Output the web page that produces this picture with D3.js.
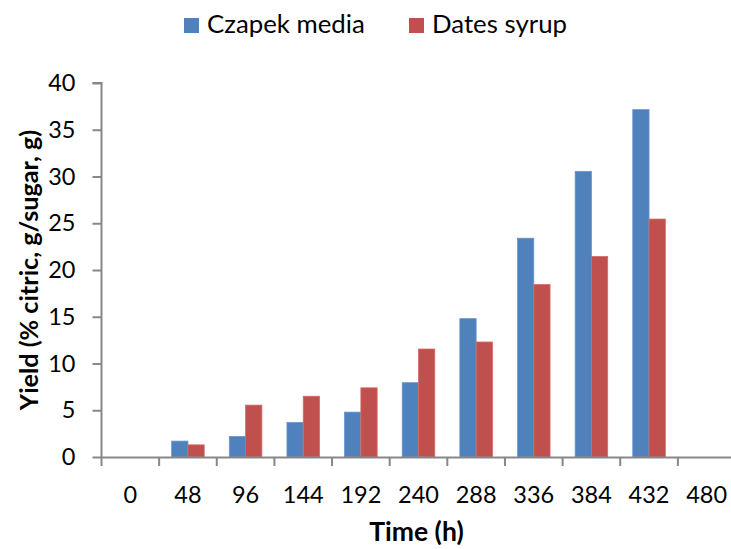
<!DOCTYPE html>
<html><head><meta charset="utf-8">
<script src="https://cdn.jsdelivr.net/npm/d3@7"></script>
<style>body{margin:0;background:#fff}svg{display:block}text{font-family:Lato,"Open Sans",sans-serif}</style>
</head><body>
<svg id="c" width="731" height="549"></svg>
<script>
const categories = ["0","48","96","144","192","240","288","336","384","432","480"];
const czapek = [null,1.7,2.2,3.7,4.8,7.95,14.8,23.4,30.55,37.15,null];
const dates  = [null,1.3,5.55,6.5,7.4,11.55,12.3,18.45,21.45,25.45,null];
const seriesNames = ["Czapek media","Dates syrup"];
const colors = ["#4F81BD","#C0504D"];
const yTicks = [0,5,10,15,20,25,30,35,40];

const svg = d3.select("#c");
const mLeft = 101.5, mRight = 735.5, mTop = 83, mBottom = 457;
const x = d3.scaleBand().domain(categories).range([mLeft,mRight]).paddingInner(0).paddingOuter(0);
const xs = d3.scaleBand().domain(seriesNames).range([0,x.bandwidth()]).paddingInner(0).paddingOuter(0.77);
const y = d3.scaleLinear().domain([0,40]).range([mBottom,mTop]);
const axisColor = "#878787";

// bars
const series = [czapek,dates];
series.forEach((vals,si)=>{
  svg.append("g").selectAll("rect").data(categories.map((c,i)=>({c,v:vals[i]})).filter(d=>d.v!=null))
    .join("rect")
    .attr("x",d=>x(d.c)+xs(seriesNames[si]))
    .attr("width",xs.bandwidth())
    .attr("y",d=>y(d.v))
    .attr("height",d=>mBottom-y(d.v))
    .attr("fill",colors[si])
    .attr("stroke",si===0?"#6a94cc":"#d36d6a").attr("stroke-width",0.8);
});

// y axis
const ya = svg.append("g").attr("transform",`translate(${mLeft},0)`)
  .call(d3.axisLeft(y).tickValues(yTicks).tickSize(9).tickPadding(17));
ya.select(".domain").attr("stroke",axisColor).attr("stroke-width",2).attr("d",`M-9,${mTop}H0V${mBottom}`);
ya.selectAll(".tick line").attr("stroke",axisColor).attr("stroke-width",2);
ya.selectAll(".tick text").attr("font-size",23.5).attr("fill","#000").attr("font-family","Lato");

// x axis
const xa = svg.append("g").attr("transform",`translate(0,${mBottom})`)
  .call(d3.axisBottom(x).tickSize(0).tickPadding(29));
xa.select(".domain").attr("stroke",axisColor).attr("stroke-width",2);
xa.selectAll(".tick text").attr("font-size",23.5).attr("fill","#000").attr("font-family","Lato");
xa.append("g").selectAll("line").data(d3.range(categories.length+1))
  .join("line")
  .attr("x1",i=>mLeft+i*x.step()).attr("x2",i=>mLeft+i*x.step())
  .attr("y1",0).attr("y2",9).attr("stroke",axisColor).attr("stroke-width",2);

// axis titles
svg.append("text").attr("x",416.5).attr("y",541).attr("text-anchor","middle")
  .attr("font-weight","bold").attr("font-size",26.5).text("Time (h)");
svg.append("text").attr("transform","translate(38,270) rotate(-90)").attr("text-anchor","middle")
  .attr("font-weight","bold").attr("font-size",25.2).text("Yield (% citric, g/sugar, g)");

// legend
const leg = [{n:seriesNames[0],c:colors[0],x:184},{n:seriesNames[1],c:colors[1],x:409}];
leg.forEach(l=>{
  svg.append("rect").attr("x",l.x).attr("y",18).attr("width",15).attr("height",15).attr("fill",l.c);
  svg.append("text").attr("x",l.x+23).attr("y",33).attr("font-size",25.8).text(l.n);
});
</script>
</body></html>
